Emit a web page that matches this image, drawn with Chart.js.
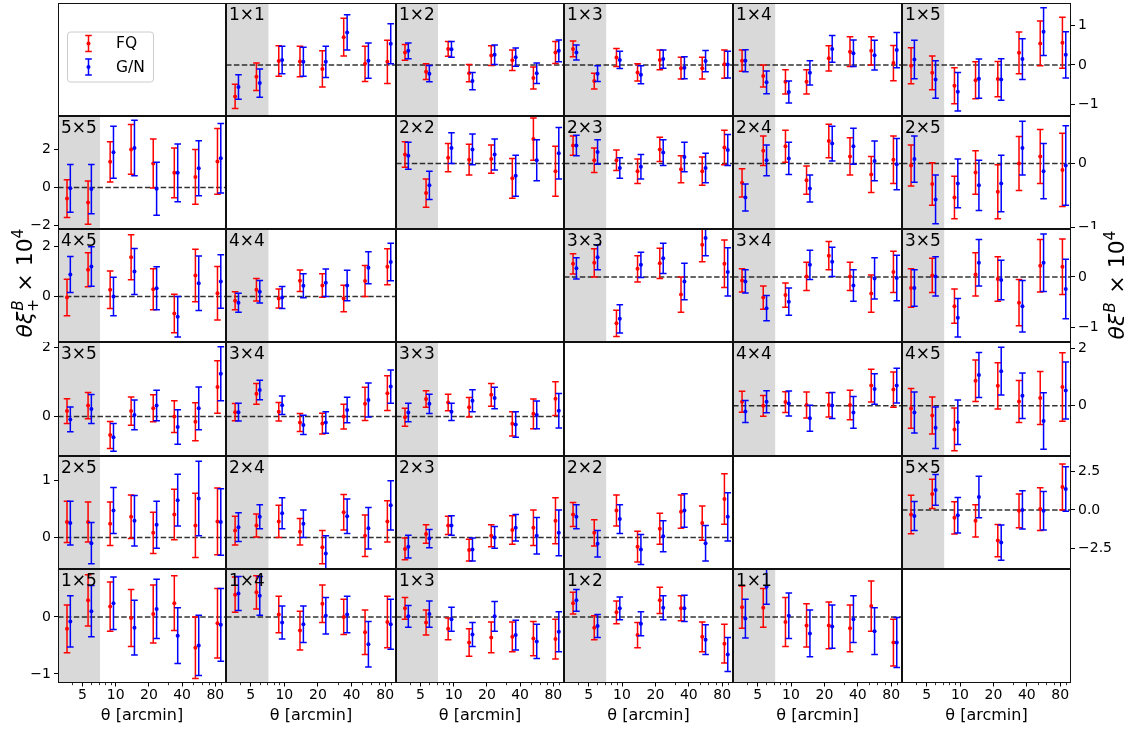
<!DOCTYPE html>
<html>
<head>
<meta charset="utf-8">
<title>B-mode shear correlation functions</title>
<script src="https://cdn.jsdelivr.net/npm/chart.js@4.4.1/dist/chart.umd.min.js"></script>
<style>
  html, body { margin: 0; padding: 0; background: #ffffff; }
  #fig { position: relative; width: 1124px; height: 731px; overflow: hidden; background: #ffffff; }
  #fig canvas { position: absolute; }
</style>
</head>
<body>
<div id="fig"></div>
<script>
// angular bins in arcmin (G/N points sit a little to the right of FQ)
const thetaFQ = [3.62, 5.62, 8.91, 13.8, 21.9, 34.0, 52.8, 83.7];
const thetaGN = [3.88, 6.02, 9.55, 14.8, 23.5, 36.5, 56.6, 89.7];
const thetaRange = [3.0, 100];
const shadeEdge = 7.2;
const xTickLabels = [5, 10, 20, 40, 80];
const xMinorTicks = [4, 6, 7, 8, 9, 30, 50, 60, 70, 90];
const seriesNames = ['FQ', 'G/N'];

// y limits and ticks per grid row: xi_+ (left axis) and xi_- (right axis)
const plusRowLimits = [null, [-2.19, 3.76], [-1.82, 2.70], [-1.14, 2.16], [-0.55, 1.42], [-1.16, 0.84]];
const plusRowTicks = [null, [-2, 0, 2], [0, 2], [0, 2], [0, 1], [-1, 0]];
const minusRowLimits = [[-1.30, 1.58], [-1.02, 0.74], [-1.29, 0.95], [-1.74, 2.21], [-3.85, 3.51]];
const minusRowTicks = [[-1, 0, 1], [-1, 0], [-1, 0], [0, 2], [-2.5, 0, 2.5]];
const minusRowDecimals = [0, 0, 0, 0, 1];

// ---- theta * xi_- (B-mode) x 1e4, upper right panels ----
const m11_fq    = [-0.80, -0.30, 0.10, 0.09, -0.10, 0.71, 0.03, 0.08];
const m11_fqErr = [0.31, 0.35, 0.39, 0.39, 0.46, 0.48, 0.45, 0.55];
const m11_gn    = [-0.56, -0.46, 0.13, 0.08, 0.08, 0.83, 0.11, 0.54];
const m11_gnErr = [0.31, 0.36, 0.35, 0.37, 0.40, 0.45, 0.45, 0.51];

const m12_fq    = [0.32, -0.17, 0.41, -0.21, 0.24, 0.12, -0.33, 0.32];
const m12_fqErr = [0.20, 0.20, 0.19, 0.22, 0.25, 0.26, 0.28, 0.28];
const m12_gn    = [0.36, -0.22, 0.40, -0.41, 0.26, 0.20, -0.21, 0.36];
const m12_gnErr = [0.20, 0.21, 0.20, 0.22, 0.25, 0.23, 0.26, 0.28];

const m13_fq    = [0.41, -0.41, 0.19, -0.19, 0.13, -0.08, -0.08, 0.02];
const m13_fqErr = [0.20, 0.20, 0.23, 0.22, 0.25, 0.28, 0.28, 0.36];
const m13_gn    = [0.32, -0.22, 0.13, -0.25, 0.15, -0.07, 0.10, 0.01];
const m13_gnErr = [0.19, 0.20, 0.22, 0.23, 0.23, 0.28, 0.27, 0.34];

const m14_fq    = [0.11, -0.28, -0.43, -0.43, 0.17, 0.34, 0.36, 0.05];
const m14_fqErr = [0.27, 0.28, 0.31, 0.31, 0.32, 0.38, 0.36, 0.45];
const m14_gn    = [0.11, -0.44, -0.69, -0.20, 0.41, 0.30, 0.25, 0.38];
const m14_gnErr = [0.28, 0.29, 0.28, 0.31, 0.34, 0.34, 0.38, 0.45];

const m15_fq    = [-0.02, -0.20, -0.53, -0.39, -0.36, 0.31, 0.55, 0.57];
const m15_fqErr = [0.46, 0.43, 0.46, 0.47, 0.45, 0.53, 0.57, 0.65];
const m15_gn    = [0.14, -0.37, -0.68, -0.35, -0.37, 0.15, 0.85, 0.26];
const m15_gnErr = [0.49, 0.48, 0.49, 0.50, 0.53, 0.52, 0.61, 0.59];

const m22_fq    = [0.14, -0.46, 0.09, 0.06, 0.07, -0.23, 0.38, -0.12];
const m22_fqErr = [0.20, 0.22, 0.22, 0.24, 0.22, 0.31, 0.33, 0.39];
const m22_gn    = [0.12, -0.34, 0.24, 0.22, 0.14, -0.19, 0.05, 0.16];
const m22_gnErr = [0.21, 0.22, 0.24, 0.24, 0.24, 0.32, 0.32, 0.40];

const m23_fq    = [0.28, 0.05, 0.05, -0.12, 0.22, -0.09, -0.12, 0.25];
const m23_fqErr = [0.15, 0.19, 0.16, 0.19, 0.19, 0.21, 0.22, 0.27];
const m23_gn    = [0.28, 0.18, -0.07, -0.05, 0.17, 0.10, -0.07, 0.21];
const m23_gnErr = [0.16, 0.19, 0.16, 0.19, 0.20, 0.23, 0.23, 0.24];

const m24_fq    = [-0.30, 0.20, 0.27, -0.26, 0.35, 0.11, -0.17, 0.06];
const m24_fqErr = [0.22, 0.23, 0.25, 0.22, 0.26, 0.29, 0.28, 0.37];
const m24_gn    = [-0.53, 0.05, 0.08, -0.39, 0.31, 0.27, 0.04, -0.01];
const m24_gnErr = [0.21, 0.24, 0.25, 0.21, 0.27, 0.28, 0.31, 0.40];

const m25_fq    = [-0.03, -0.32, -0.53, -0.14, -0.44, 0.00, 0.11, -0.10];
const m25_fqErr = [0.32, 0.33, 0.33, 0.34, 0.42, 0.42, 0.42, 0.57];
const m25_gn    = [0.07, -0.56, -0.31, -0.34, -0.31, 0.24, -0.12, -0.03];
const m25_gnErr = [0.36, 0.38, 0.38, 0.39, 0.44, 0.42, 0.43, 0.62];

const m33_fq    = [0.26, 0.28, -0.92, 0.16, 0.27, -0.35, 0.64, 0.26];
const m33_fqErr = [0.20, 0.28, 0.26, 0.26, 0.30, 0.35, 0.34, 0.47];
const m33_gn    = [0.17, 0.39, -0.83, 0.24, 0.37, -0.09, 0.77, 0.10];
const m33_gnErr = [0.21, 0.25, 0.28, 0.25, 0.30, 0.36, 0.35, 0.48];

const m34_fq    = [-0.07, -0.41, -0.36, 0.01, 0.42, 0.01, -0.33, 0.10];
const m34_fqErr = [0.23, 0.23, 0.24, 0.28, 0.28, 0.28, 0.37, 0.41];
const m34_gn    = [-0.09, -0.62, -0.49, 0.24, 0.30, -0.17, -0.03, -0.02];
const m34_gnErr = [0.23, 0.25, 0.27, 0.29, 0.29, 0.31, 0.41, 0.45];

const m35_fq    = [-0.22, 0.03, -0.58, 0.05, -0.04, -0.51, 0.22, 0.20];
const m35_fqErr = [0.38, 0.34, 0.34, 0.43, 0.44, 0.46, 0.52, 0.55];
const m35_gn    = [-0.22, 0.01, -0.81, 0.28, -0.06, -0.58, 0.28, -0.24];
const m35_gnErr = [0.36, 0.39, 0.38, 0.46, 0.39, 0.51, 0.57, 0.59];

const m44_fq    = [0.14, 0.00, 0.13, 0.03, 0.03, 0.03, 0.70, 0.56];
const m44_fqErr = [0.36, 0.36, 0.36, 0.45, 0.42, 0.51, 0.57, 0.61];
const m44_gn    = [-0.20, 0.14, 0.08, -0.43, 0.01, -0.23, 0.58, 0.70];
const m44_gnErr = [0.38, 0.38, 0.43, 0.45, 0.45, 0.55, 0.53, 0.60];

const m45_fq    = [-0.09, -0.34, -0.82, 0.87, 0.69, 0.15, 0.27, 0.65];
const m45_fqErr = [0.69, 0.64, 0.74, 0.72, 0.80, 0.73, 0.92, 1.19];
const m45_gn    = [-0.23, -0.76, -0.57, 1.07, 1.20, 0.35, -0.53, 0.53];
const m45_gnErr = [0.71, 0.72, 0.77, 0.78, 0.83, 0.79, 0.98, 0.99];

const m55_fq    = [-0.30, 1.04, -0.52, -0.71, -2.00, -0.06, 0.05, 1.49];
const m55_fqErr = [1.25, 0.95, 1.05, 1.05, 1.05, 1.10, 1.40, 1.50];
const m55_gn    = [-0.40, 1.30, -0.35, 0.84, -2.13, 0.00, -0.06, 1.36];
const m55_gnErr = [0.95, 1.00, 1.15, 1.35, 1.15, 1.25, 1.25, 1.45];

// ---- theta * xi_+ (B-mode) x 1e4, lower left panels ----
const p55_fq    = [-0.59, -0.80, 1.35, 2.00, 1.26, 0.77, 0.55, 1.37];
const p55_fqErr = [0.99, 1.14, 1.06, 1.31, 1.29, 1.31, 1.44, 1.73];
const p55_gn    = [-0.05, -0.09, 1.85, 2.07, -0.07, 0.77, 1.01, 1.54];
const p55_gnErr = [1.26, 1.30, 1.37, 1.46, 1.39, 1.52, 1.45, 1.83];

const p45_fq    = [-0.04, 1.07, 0.27, 1.57, 0.29, -0.68, 0.84, 0.13];
const p45_fqErr = [0.73, 0.68, 0.75, 0.90, 0.82, 0.77, 1.05, 1.07];
const p45_gn    = [0.88, 1.20, 0.00, 1.00, 0.33, -0.81, 0.53, 0.60];
const p45_gnErr = [0.72, 0.79, 0.77, 0.92, 0.86, 0.81, 1.09, 1.07];

const p44_fq    = [-0.17, 0.27, -0.08, 0.63, 0.44, -0.08, 0.62, 1.19];
const p44_fqErr = [0.36, 0.45, 0.38, 0.43, 0.47, 0.53, 0.62, 0.72];
const p44_gn    = [-0.25, 0.19, -0.04, 0.43, 0.55, 0.44, 1.15, 1.38];
const p44_gnErr = [0.38, 0.45, 0.44, 0.48, 0.55, 0.61, 0.64, 0.75];

const p35_fq    = [0.16, 0.32, -0.53, 0.16, 0.24, 0.00, -0.15, 0.86];
const p35_fqErr = [0.36, 0.38, 0.39, 0.41, 0.39, 0.46, 0.55, 0.76];
const p35_gn    = [-0.08, 0.22, -0.60, 0.05, 0.32, -0.30, 0.24, 1.24];
const p35_gnErr = [0.36, 0.42, 0.40, 0.43, 0.44, 0.50, 0.62, 0.78];

const p34_fq    = [0.13, 0.66, 0.14, -0.17, -0.20, 0.00, 0.37, 0.68];
const p34_fqErr = [0.25, 0.30, 0.27, 0.26, 0.30, 0.36, 0.48, 0.50];
const p34_gn    = [0.13, 0.77, 0.33, -0.24, -0.17, 0.19, 0.48, 0.87];
const p34_gnErr = [0.26, 0.28, 0.27, 0.28, 0.31, 0.37, 0.49, 0.48];

const p33_fq    = [-0.02, 0.51, 0.41, 0.27, 0.63, -0.21, 0.08, 0.52];
const p33_fqErr = [0.26, 0.24, 0.24, 0.28, 0.33, 0.35, 0.43, 0.49];
const p33_gn    = [0.12, 0.37, 0.14, 0.46, 0.54, -0.23, 0.05, 0.17];
const p33_gnErr = [0.27, 0.28, 0.25, 0.32, 0.31, 0.37, 0.40, 0.50];

const p25_fq    = [0.27, 0.27, 0.24, 0.36, 0.08, 0.40, 0.21, 0.28];
const p25_fqErr = [0.36, 0.35, 0.38, 0.38, 0.36, 0.44, 0.56, 0.58];
const p25_gn    = [0.25, -0.10, 0.47, 0.29, 0.22, 0.65, 0.68, 0.27];
const p25_gnErr = [0.38, 0.36, 0.40, 0.44, 0.41, 0.45, 0.65, 0.58];

const p24_fq    = [0.12, 0.21, 0.28, 0.10, -0.17, 0.44, 0.03, 0.28];
const p24_fqErr = [0.25, 0.20, 0.28, 0.23, 0.29, 0.31, 0.36, 0.36];
const p24_gn    = [0.18, 0.36, 0.42, 0.24, -0.28, 0.37, 0.16, 0.56];
const p24_gnErr = [0.25, 0.21, 0.27, 0.24, 0.31, 0.30, 0.36, 0.43];

const p23_fq    = [-0.20, 0.06, 0.21, -0.22, 0.03, 0.13, 0.17, 0.29];
const p23_fqErr = [0.19, 0.16, 0.16, 0.19, 0.19, 0.25, 0.31, 0.40];
const p23_gn    = [-0.16, -0.02, 0.21, -0.21, 0.00, 0.17, 0.03, 0.08];
const p23_gnErr = [0.20, 0.16, 0.17, 0.20, 0.19, 0.23, 0.32, 0.40];

const p22_fq    = [0.40, 0.08, 0.47, -0.16, 0.15, 0.45, 0.25, 0.67];
const p22_fqErr = [0.21, 0.23, 0.27, 0.27, 0.27, 0.29, 0.30, 0.44];
const p22_gn    = [0.36, -0.11, 0.32, -0.21, 0.02, 0.47, -0.10, 0.36];
const p22_gnErr = [0.21, 0.23, 0.25, 0.26, 0.27, 0.29, 0.31, 0.42];

const p15_fq    = [-0.21, 0.29, 0.18, -0.02, 0.05, 0.24, -0.54, -0.11];
const p15_fqErr = [0.42, 0.45, 0.43, 0.50, 0.51, 0.48, 0.54, 0.61];
const p15_gn    = [-0.08, 0.10, 0.24, -0.19, 0.14, -0.33, -0.50, -0.14];
const p15_gnErr = [0.45, 0.45, 0.46, 0.48, 0.52, 0.49, 0.53, 0.64];

const p14_fq    = [0.39, 0.43, 0.04, -0.24, 0.23, 0.00, -0.27, -0.09];
const p14_fqErr = [0.31, 0.29, 0.32, 0.34, 0.33, 0.31, 0.39, 0.45];
const p14_gn    = [0.41, 0.37, -0.10, -0.13, 0.02, 0.04, -0.48, -0.13];
const p14_gnErr = [0.30, 0.34, 0.29, 0.32, 0.32, 0.32, 0.40, 0.44];

const p13_fq    = [0.15, -0.10, -0.21, -0.45, -0.36, -0.35, -0.38, -0.39];
const p13_fqErr = [0.19, 0.22, 0.19, 0.24, 0.27, 0.26, 0.30, 0.35];
const p13_gn    = [0.01, 0.05, -0.04, -0.31, 0.01, -0.32, -0.43, -0.26];
const p13_gnErr = [0.19, 0.23, 0.21, 0.21, 0.26, 0.26, 0.30, 0.35];

const p12_fq    = [0.24, -0.19, 0.08, -0.32, 0.29, 0.15, -0.35, -0.47];
const p12_fqErr = [0.19, 0.21, 0.20, 0.22, 0.23, 0.22, 0.26, 0.34];
const p12_gn    = [0.29, -0.16, 0.15, -0.12, 0.16, 0.15, -0.40, -0.66];
const p12_gnErr = [0.19, 0.20, 0.20, 0.21, 0.21, 0.23, 0.26, 0.30];

const p11_fq    = [0.17, 0.16, -0.09, -0.15, -0.15, -0.20, 0.19, -0.45];
const p11_fqErr = [0.37, 0.34, 0.43, 0.38, 0.41, 0.41, 0.44, 0.41];
const p11_gn    = [-0.03, 0.53, 0.02, -0.29, -0.17, -0.04, -0.25, -0.45];
const p11_gnErr = [0.34, 0.31, 0.40, 0.41, 0.38, 0.41, 0.41, 0.44];

const panelSeries = {
    m11: [m11_fq, m11_fqErr, m11_gn, m11_gnErr], m12: [m12_fq, m12_fqErr, m12_gn, m12_gnErr],
    m13: [m13_fq, m13_fqErr, m13_gn, m13_gnErr], m14: [m14_fq, m14_fqErr, m14_gn, m14_gnErr],
    m15: [m15_fq, m15_fqErr, m15_gn, m15_gnErr], m22: [m22_fq, m22_fqErr, m22_gn, m22_gnErr],
    m23: [m23_fq, m23_fqErr, m23_gn, m23_gnErr], m24: [m24_fq, m24_fqErr, m24_gn, m24_gnErr],
    m25: [m25_fq, m25_fqErr, m25_gn, m25_gnErr], m33: [m33_fq, m33_fqErr, m33_gn, m33_gnErr],
    m34: [m34_fq, m34_fqErr, m34_gn, m34_gnErr], m35: [m35_fq, m35_fqErr, m35_gn, m35_gnErr],
    m44: [m44_fq, m44_fqErr, m44_gn, m44_gnErr], m45: [m45_fq, m45_fqErr, m45_gn, m45_gnErr],
    m55: [m55_fq, m55_fqErr, m55_gn, m55_gnErr],
    p55: [p55_fq, p55_fqErr, p55_gn, p55_gnErr], p45: [p45_fq, p45_fqErr, p45_gn, p45_gnErr],
    p44: [p44_fq, p44_fqErr, p44_gn, p44_gnErr], p35: [p35_fq, p35_fqErr, p35_gn, p35_gnErr],
    p34: [p34_fq, p34_fqErr, p34_gn, p34_gnErr], p33: [p33_fq, p33_fqErr, p33_gn, p33_gnErr],
    p25: [p25_fq, p25_fqErr, p25_gn, p25_gnErr], p24: [p24_fq, p24_fqErr, p24_gn, p24_gnErr],
    p23: [p23_fq, p23_fqErr, p23_gn, p23_gnErr], p22: [p22_fq, p22_fqErr, p22_gn, p22_gnErr],
    p15: [p15_fq, p15_fqErr, p15_gn, p15_gnErr], p14: [p14_fq, p14_fqErr, p14_gn, p14_gnErr],
    p13: [p13_fq, p13_fqErr, p13_gn, p13_gnErr], p12: [p12_fq, p12_fqErr, p12_gn, p12_gnErr],
    p11: [p11_fq, p11_fqErr, p11_gn, p11_gnErr]
};

// figure grid (pixel edges of the 6x6 panel block)
const colEdges = [58, 226, 396, 564, 733, 902, 1071];
const rowEdges = [3, 116, 229, 342, 456, 569, 683];
const FIG_W = 1124, FIG_H = 731;
const FQ_COLOR = '#ff0000';
const GN_COLOR = '#0000ff';
const FONT = '"DejaVu Sans", sans-serif';

Chart.defaults.font.family = FONT;
Chart.defaults.color = '#000';

function minusSign(s) {
    return s.replace('-', '\u2212');
}

function clipArea(ctx, a) {
    ctx.beginPath();
    ctx.rect(a.left, a.top, a.right - a.left, a.bottom - a.top);
    ctx.clip();
}

function drawErrorBar(ctx, px, lo, hi, cap) {
    ctx.beginPath();
    ctx.moveTo(px, lo);
    ctx.lineTo(px, hi);
    ctx.moveTo(px - cap, lo);
    ctx.lineTo(px + cap, lo);
    ctx.moveTo(px - cap, hi);
    ctx.lineTo(px + cap, hi);
    ctx.stroke();
}

// keep the plot area fixed: no extra room for half labels at the ends
function noEndPadding(s) {
    s.paddingTop = 0;
    s.paddingBottom = 0;
    s.paddingLeft = 0;
    s.paddingRight = 0;
}

const panelDeco = {
    id: 'panelDeco',
    beforeDatasetsDraw(chart, args, opts) {
        if (!opts.hasData) return;
        const { ctx, chartArea: a, scales } = chart;
        ctx.save();
        clipArea(ctx, a);
        // small-scale region shading
        const xe = scales.x.getPixelForValue(shadeEdge);
        ctx.fillStyle = '#d9d9d9';
        ctx.fillRect(a.left, a.top, xe - a.left, a.bottom - a.top);
        // zero line
        const y0 = scales.y.getPixelForValue(0);
        ctx.strokeStyle = 'rgba(0,0,0,0.8)';
        ctx.lineWidth = 1.5;
        ctx.setLineDash([5.5, 2.4]);
        ctx.beginPath();
        ctx.moveTo(a.left, y0);
        ctx.lineTo(a.right, y0);
        ctx.stroke();
        ctx.restore();
    },
    beforeDatasetDraw(chart, args) {
        const { ctx, chartArea: a, scales } = chart;
        const ds = chart.data.datasets[args.index];
        ctx.save();
        clipArea(ctx, a);
        ctx.strokeStyle = ds.borderColor;
        ctx.lineWidth = 1.5;
        ds.data.forEach(p => {
            const px = scales.x.getPixelForValue(p.x);
            const lo = scales.y.getPixelForValue(p.y - p.err);
            const hi = scales.y.getPixelForValue(p.y + p.err);
            drawErrorBar(ctx, px, lo, hi, 3.3);
        });
        ctx.restore();
    },
    afterDraw(chart, args, opts) {
        const { ctx, chartArea: a, scales } = chart;
        ctx.save();
        // minor ticks along the bottom axis
        if (opts.bottomAxis) {
            ctx.strokeStyle = '#000';
            ctx.lineWidth = 0.8;
            xMinorTicks.forEach(t => {
                const px = Math.round(scales.x.getPixelForValue(t)) + 0.5;
                ctx.beginPath();
                ctx.moveTo(px, a.bottom);
                ctx.lineTo(px, a.bottom + 2.2);
                ctx.stroke();
            });
        }
        // frame
        ctx.strokeStyle = '#111';
        ctx.lineWidth = 1;
        ctx.strokeRect(a.left + 0.5, a.top + 0.5, a.right - a.left - 1, a.bottom - a.top - 1);
        // panel label
        if (opts.label) {
            ctx.fillStyle = '#000';
            ctx.font = '17px ' + FONT;
            ctx.textBaseline = 'alphabetic';
            ctx.textAlign = 'left';
            ctx.fillText(opts.label, a.left + 3, a.top + 17);
        }
        // legend
        if (opts.legend) {
            const bx = a.left + 9, by = a.top + 28.5, bw = 86, bh = 50;
            ctx.fillStyle = '#fff';
            ctx.strokeStyle = '#cccccc';
            ctx.lineWidth = 1;
            ctx.beginPath();
            ctx.roundRect(bx + 0.5, by + 0.5, bw, bh, 3);
            ctx.fill();
            ctx.stroke();
            const colors = [FQ_COLOR, GN_COLOR];
            const rowsY = [a.top + 40.5, a.top + 64];
            seriesNames.forEach((name, i) => {
                const cx = a.left + 30.5, cy = rowsY[i];
                ctx.strokeStyle = colors[i];
                ctx.lineWidth = 1.5;
                drawErrorBar(ctx, cx, cy - 8, cy + 8, 3.3);
                ctx.fillStyle = colors[i];
                ctx.beginPath();
                ctx.arc(cx, cy, 2, 0, Math.PI * 2);
                ctx.fill();
                ctx.fillStyle = '#000';
                ctx.font = '15.5px ' + FONT;
                ctx.textBaseline = 'middle';
                ctx.textAlign = 'left';
                ctx.fillText(name, a.left + 58, cy + 0.5);
            });
        }
        ctx.restore();
    }
};

const fig = document.getElementById('fig');

function makePanel(r, c) {
    const hasLeft = c === 0 && r > 0;
    const hasRight = c === 5 && r < 5;
    const hasBottom = r === 5;
    const left = hasLeft ? 0 : colEdges[c];
    const right = hasRight ? FIG_W : colEdges[c + 1];
    const top = rowEdges[r];
    const bottom = hasBottom ? FIG_H : rowEdges[r + 1];

    const canvas = document.createElement('canvas');
    canvas.width = right - left;
    canvas.height = bottom - top;
    canvas.style.left = left + 'px';
    canvas.style.top = top + 'px';
    fig.appendChild(canvas);

    let key = null, label = null, lim = [-1, 1], ticks = [], decimals = 0;
    if (c > r) {
        key = 'm' + (r + 1) + c;
        label = (r + 1) + '\u00d7' + c;
        lim = minusRowLimits[r];
        ticks = minusRowTicks[r];
        decimals = minusRowDecimals[r];
    } else if (c < r) {
        key = 'p' + (6 - r) + (5 - c);
        label = (6 - r) + '\u00d7' + (5 - c);
        lim = plusRowLimits[r];
        ticks = plusRowTicks[r];
    }

    const datasets = [];
    if (key) {
        const [fq, fqErr, gn, gnErr] = panelSeries[key];
        datasets.push({
            label: seriesNames[0],
            data: thetaFQ.map((t, i) => ({ x: t, y: fq[i], err: fqErr[i] })),
            borderColor: FQ_COLOR,
            backgroundColor: FQ_COLOR,
            pointRadius: 2,
            pointBorderWidth: 0,
            order: 1
        });
        datasets.push({
            label: seriesNames[1],
            data: thetaGN.map((t, i) => ({ x: t, y: gn[i], err: gnErr[i] })),
            borderColor: GN_COLOR,
            backgroundColor: GN_COLOR,
            pointRadius: 2,
            pointBorderWidth: 0,
            order: 0
        });
    }

    const yScale = {
        type: 'linear',
        position: hasRight ? 'right' : 'left',
        display: hasLeft || hasRight,
        min: lim[0],
        max: lim[1],
        bounds: 'data',
        afterBuildTicks: s => { s.ticks = ticks.map(v => ({ value: v })); },
        afterFit: s => {
            noEndPadding(s);
            if (hasLeft) s.width = colEdges[0];
            if (hasRight) s.width = FIG_W - colEdges[6];
        },
        ticks: {
            font: { size: 14 },
            color: '#000',
            padding: 3,
            callback: v => minusSign(Number(v).toFixed(decimals))
        },
        grid: { drawOnChartArea: false, drawTicks: true, tickLength: 4, color: '#000', lineWidth: 1 },
        border: { display: false }
    };

    const xScale = {
        type: 'logarithmic',
        position: 'bottom',
        display: hasBottom,
        min: thetaRange[0],
        max: thetaRange[1],
        bounds: 'data',
        afterBuildTicks: s => { s.ticks = xTickLabels.map(v => ({ value: v })); },
        afterFit: s => {
            noEndPadding(s);
            if (hasBottom) s.height = FIG_H - rowEdges[6];
        },
        ticks: {
            font: { size: 14 },
            color: '#000',
            padding: 0,
            autoSkip: false,
            maxRotation: 0,
            callback: v => String(v)
        },
        grid: { drawOnChartArea: false, drawTicks: true, tickLength: 3.5, color: '#000', lineWidth: 1 },
        border: { display: false },
        title: {
            display: true,
            text: '\u03b8 [arcmin]',
            font: { size: 16 },
            color: '#000',
            padding: { top: 0, bottom: 6 }
        }
    };

    new Chart(canvas, {
        type: 'scatter',
        data: { datasets },
        plugins: [panelDeco],
        options: {
            responsive: false,
            animation: false,
            events: [],
            layout: { padding: 0, autoPadding: false },
            plugins: {
                legend: { display: false },
                tooltip: { enabled: false },
                panelDeco: { hasData: !!key, label, legend: r === 0 && c === 0, bottomAxis: hasBottom }
            },
            scales: { x: xScale, y: yScale }
        }
    });
}

for (let r = 0; r < 6; r++) {
    for (let c = 0; c < 6; c++) {
        makePanel(r, c);
    }
}

// rotated y-axis titles
const overlay = document.createElement('canvas');
overlay.width = FIG_W;
overlay.height = FIG_H;
overlay.style.left = '0px';
overlay.style.top = '0px';
overlay.style.pointerEvents = 'none';
fig.appendChild(overlay);

function drawYTitle(ctx, baseX, midY, subText) {
    const fs = 22, small = fs * 0.7;
    const italic = 'italic ' + fs + 'px ' + FONT;
    const body = fs + 'px ' + FONT;
    const smallItalic = 'italic ' + small + 'px ' + FONT;
    const smallBody = small + 'px ' + FONT;
    ctx.save();
    ctx.font = italic;
    const w1 = ctx.measureText('\u03b8\u03be').width;
    ctx.font = smallItalic;
    const w2 = ctx.measureText('B').width;
    ctx.font = smallBody;
    const w2b = ctx.measureText(subText).width;
    ctx.font = body;
    const w3 = ctx.measureText(' \u00d7 10').width;
    ctx.font = smallBody;
    const w4 = ctx.measureText('4').width;
    const total = w1 + Math.max(w2, w2b) + w3 + w4;

    ctx.translate(baseX, midY);
    ctx.rotate(-Math.PI / 2);
    ctx.fillStyle = '#000';
    ctx.textBaseline = 'alphabetic';
    ctx.textAlign = 'left';
    let x = -total / 2;
    ctx.font = italic;
    ctx.fillText('\u03b8\u03be', x, 0);
    x += w1;
    ctx.font = smallItalic;
    ctx.fillText('B', x + 1, -0.42 * fs);
    ctx.font = smallBody;
    ctx.fillText(subText, x, 0.25 * fs);
    x += Math.max(w2, w2b);
    ctx.font = body;
    ctx.fillText(' \u00d7 10', x, 0);
    x += w3;
    ctx.font = smallBody;
    ctx.fillText('4', x, -0.42 * fs);
    ctx.restore();
}

const octx = overlay.getContext('2d');
drawYTitle(octx, 32, 283, '+');
drawYTitle(octx, 1124, 285, '\u2212');
</script>
</body>
</html>
